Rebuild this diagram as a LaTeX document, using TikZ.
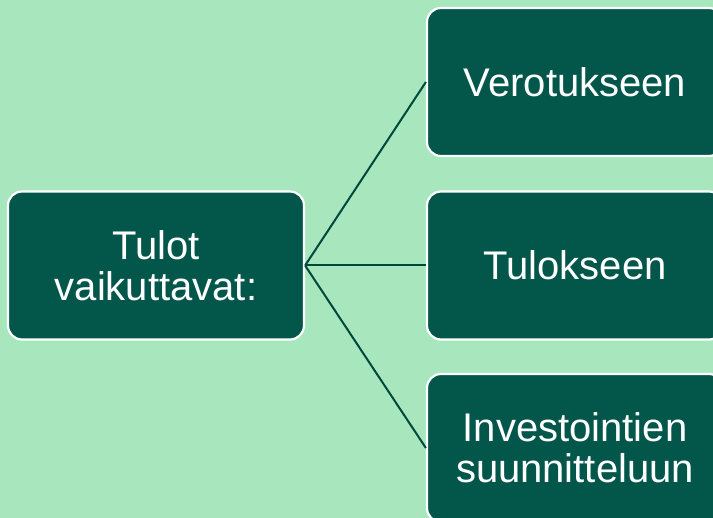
\documentclass[tikz,border=0pt]{standalone}
\usepackage{fontspec}
\setmainfont{Liberation Sans}
\usepackage{xcolor}

\definecolor{bgmint}{RGB}{168,230,190}
\definecolor{boxgreen}{RGB}{2,86,74}
\definecolor{linkgreen}{RGB}{1,72,60}

\tikzset{
    topicbox/.style={draw=white, line width=2.2pt, fill=boxgreen, rounded corners=14pt,
        minimum width=296pt, minimum height=148pt, inner sep=0pt, text width=290pt,
        align=center, text=white, font=\fontsize{40}{41}\selectfont},
    link/.style={draw=linkgreen, line width=2pt}
}

\begin{document}
\begin{tikzpicture}[x=1pt, y=-1pt]
    % =========================================================
    % CANVAS
    % =========================================================
    \useasboundingbox (0,0) rectangle (713,518);
    \clip (0,0) rectangle (713,518);
    \fill[bgmint] (0,0) rectangle (713,518);

    % =========================================================
    % ROOT BOX
    % =========================================================
    \node[topicbox] (tulot) at (156,265.5) {Tulot\\vaikuttavat:};

    % =========================================================
    % BRANCH BOXES
    % =========================================================
    \node[topicbox] (vero) at (575,82) {Verotukseen};
    \node[topicbox] (tulos) at (575,265.5) {Tulokseen};
    \node[topicbox] (invest) at (575,448) {Investointien\\suunnitteluun};

    % Connectors
    \draw[link] (tulot.east) -- (vero.west);
    \draw[link] (tulot.east) -- (tulos.west);
    \draw[link] (tulot.east) -- (invest.west);
\end{tikzpicture}
\end{document}
